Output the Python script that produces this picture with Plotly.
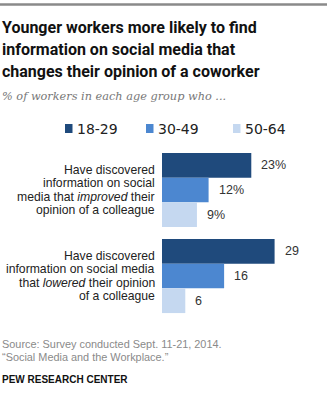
import plotly.graph_objects as go

# ---- data ----
categories = [
    "Have discovered<br>information on social<br>media that <i>improved</i> their<br>opinion of a colleague",
    "Have discovered<br>information on social media<br>that <i>lowered</i> their opinion<br>of a colleague",
]
series_names = ["18-29", "30-49", "50-64"]
values = {
    "18-29": [23, 29],
    "30-49": [12, 16],
    "50-64": [9, 6],
}
value_labels = {
    "18-29": ["23%", "29"],
    "30-49": ["12%", "16"],
    "50-64": ["9%", "6"],
}
colors = {"18-29": "#1F4A7C", "30-49": "#4C87D0", "50-64": "#C5D8F0"}

title_lines = [
    "Younger workers more likely to find",
    "information on social media that",
    "changes their opinion of a coworker",
]
subtitle = "% of workers in each age group who ..."
source_lines = ["Source: Survey conducted Sept. 11-21, 2014.", "\u201cSocial Media and the Workplace.\u201d"]
credit = "PEW RESEARCH CENTER"

# ---- layout geometry (pixels) ----
W, H = 327, 400
L, R, T, B = 162, 327, 147, 319
XMAX = 42.5
BARGAP = 0.138


def px(x):
    return (x - L) / (R - L)


def py(y):
    return (B - y) / (B - T)


BODY = "Liberation Sans, Arial, sans-serif"

fig = go.Figure()
for name in series_names:
    fig.add_trace(go.Bar(
        y=categories, x=values[name], name=name, orientation="h",
        marker=dict(color=colors[name], line=dict(width=0)),
        hoverinfo="skip", showlegend=False,
    ))

annotations = []
shapes = []

# value labels
bw = (1 - BARGAP) / len(series_names)
for si, name in enumerate(series_names):
    off = (si - (len(series_names) - 1) / 2) * bw
    for ci, v in enumerate(values[name]):
        annotations.append(dict(
            x=v, y=ci + off, xref="x", yref="y", text=value_labels[name][ci],
            showarrow=False, xanchor="left", yanchor="middle", xshift=8,
            font=dict(family=BODY, size=12.5, color="#333333"),
        ))

# category labels, one annotation per line (right aligned)
LINE = 13.6
for ci, cat in enumerate(categories):
    lines = cat.split("<br>")
    n = len(lines)
    for li, ln in enumerate(lines):
        annotations.append(dict(
            x=0, y=ci, xref="paper", yref="y", text=ln, showarrow=False,
            xanchor="right", yanchor="middle", xshift=-5,
            yshift=-((li - (n - 1) / 2) * LINE),
            font=dict(family=BODY, size=12.2, color="#222222"),
        ))

# title
for i, (t, yc) in enumerate(zip(title_lines, [27, 49.5, 72])):
    annotations.append(dict(
        x=px(0), y=py(yc), xref="paper", yref="paper", text="<b>" + t + "</b>",
        showarrow=False, xanchor="left", yanchor="middle",
        font=dict(family="Roboto, Liberation Sans, sans-serif", size=16, color="#111111"),
    ))
annotations.append(dict(
    x=px(0), y=py(97), xref="paper", yref="paper", text="<i>" + subtitle + "</i>",
    showarrow=False, xanchor="left", yanchor="middle",
    font=dict(family="DejaVu Serif, Liberation Serif, serif", size=11.3, color="#777777"),
))

# legend (manual)
leg_sq = [65, 146, 233]
for name, sx in zip(series_names, leg_sq):
    shapes.append(dict(type="rect", xref="paper", yref="paper",
                       x0=px(sx), x1=px(sx + 7.5), y0=py(133), y1=py(124),
                       fillcolor=colors[name], line=dict(width=0)))
    annotations.append(dict(
        x=px(sx + 10), y=py(128.5), xref="paper", yref="paper", text=name,
        showarrow=False, xanchor="left", yanchor="middle",
        font=dict(family="DejaVu Sans, sans-serif", size=14, color="#222222"),
    ))

# source + credit
for t, yc in zip(source_lines, [344, 357]):
    annotations.append(dict(
        x=px(0), y=py(yc), xref="paper", yref="paper", text=t,
        showarrow=False, xanchor="left", yanchor="middle",
        font=dict(family=BODY, size=10.9, color="#8a8a8a"),
    ))
annotations.append(dict(
    x=px(0), y=py(379), xref="paper", yref="paper", text="<b>" + credit + "</b>",
    showarrow=False, xanchor="left", yanchor="middle",
    font=dict(family=BODY, size=10, color="#111111"),
))

# top rule
shapes.append(dict(type="line", xref="paper", yref="paper",
                   x0=px(0), x1=px(W), y0=py(4.5), y1=py(4.5),
                   line=dict(color="#8a8a8a", width=2.5)))

fig.update_layout(
    width=W, height=H, autosize=False,
    margin=dict(l=L, r=W - R, t=T, b=H - B, pad=0),
    paper_bgcolor="white", plot_bgcolor="white",
    barmode="group", bargap=BARGAP, bargroupgap=0,
    xaxis=dict(range=[0, XMAX], visible=False, fixedrange=True),
    yaxis=dict(autorange="reversed", showticklabels=False, showgrid=False,
               zeroline=False, showline=False, ticks="", fixedrange=True),
    annotations=annotations, shapes=shapes, showlegend=False,
)

fig.write_html("out.html", config={"displayModeBar": False})
